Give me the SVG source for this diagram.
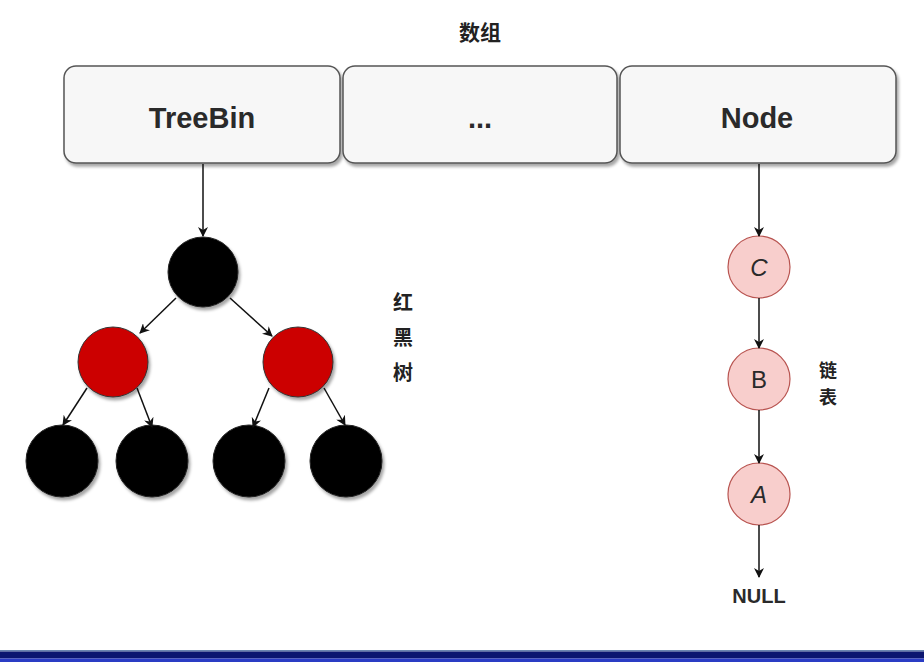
<svg xmlns="http://www.w3.org/2000/svg" width="924" height="662" viewBox="0 0 924 662">
<defs>
<marker id="ah" viewBox="0 0 10 10" refX="9" refY="5" markerWidth="10" markerHeight="10" markerUnits="userSpaceOnUse" orient="auto">
<path d="M0,0 L10,5 L0,10 L3,5 Z" fill="#111"/>
</marker>
<filter id="sh" x="-10%" y="-10%" width="120%" height="130%">
<feDropShadow dx="2" dy="3" stdDeviation="1.5" flood-color="#000" flood-opacity="0.35"/>
</filter>
</defs>
<style>
.box{fill:#f7f7f7;stroke:#555;stroke-width:1.5;filter:url(#sh)}
.lbl{font-family:"Liberation Sans","Noto Sans CJK SC",sans-serif;fill:#2a2a2a;text-anchor:middle}
.cjk{font-family:"Noto Sans CJK SC","Liberation Sans",sans-serif;font-weight:bold;fill:#222;text-anchor:middle}
.blk{fill:#000;stroke:#222;stroke-width:1;filter:url(#sh)}
.red{fill:#cc0000;stroke:#333;stroke-width:1;filter:url(#sh)}
.pink{fill:#f8cecc;stroke:#b85450;stroke-width:1.2}
.edge{stroke:#111;stroke-width:1.5;fill:none;marker-end:url(#ah)}
</style>
<rect width="924" height="662" fill="#fff"/>
<text class="cjk" x="480" y="40" font-size="21">数组</text>
<g id="treebin"><rect class="box" x="64" y="66" width="276" height="97" rx="12"/><text class="lbl" x="202" y="128" font-size="29" font-weight="bold">TreeBin</text></g>
<g id="dots"><rect class="box" x="343" y="66" width="274" height="97" rx="12"/><text class="lbl" x="480" y="128" font-size="29" font-weight="bold">...</text></g>
<g id="node"><rect class="box" x="620" y="66" width="276" height="97" rx="12"/><text class="lbl" x="757" y="128" font-size="29" font-weight="bold">Node</text></g>
<g id="root"><circle class="blk" cx="203" cy="272" r="35"/></g>
<g id="redL"><circle class="red" cx="113" cy="362" r="35"/></g>
<g id="redR"><circle class="red" cx="298" cy="362" r="35"/></g>
<g id="b1"><circle class="blk" cx="62" cy="461" r="36"/></g>
<g id="b2"><circle class="blk" cx="152" cy="461" r="36"/></g>
<g id="b3"><circle class="blk" cx="249" cy="461" r="36"/></g>
<g id="b4"><circle class="blk" cx="346" cy="461" r="36"/></g>
<g id="rbt-label"><text class="cjk" x="403" y="310" font-size="20">红</text><text class="cjk" x="403" y="345" font-size="20">黑</text><text class="cjk" x="403" y="380" font-size="20">树</text></g>
<g id="nC"><circle class="pink" cx="759" cy="267" r="31"/><text class="lbl" x="759" y="276" font-size="24" font-style="italic">C</text></g>
<g id="nB"><circle class="pink" cx="759" cy="379" r="31"/><text class="lbl" x="759" y="388" font-size="24">B</text></g>
<g id="nA"><circle class="pink" cx="759" cy="494" r="31"/><text class="lbl" x="759" y="503" font-size="24" font-style="italic">A</text></g>
<g id="null"><text class="lbl" x="759" y="603" font-size="20" font-weight="bold" fill="#222">NULL</text></g>
<g id="list-label"><text class="cjk" x="828" y="377" font-size="18">链</text><text class="cjk" x="828" y="404" font-size="18">表</text></g>
<g id="connectors">
<line class="edge" x1="203" y1="164" x2="203" y2="236"/>
<line class="edge" x1="176" y1="298" x2="140" y2="333"/>
<line class="edge" x1="230" y1="298" x2="272" y2="336"/>
<line class="edge" x1="87" y1="388" x2="63" y2="425"/>
<line class="edge" x1="137" y1="388" x2="152" y2="427"/>
<line class="edge" x1="269" y1="388" x2="253" y2="427"/>
<line class="edge" x1="324" y1="388" x2="345" y2="425"/>
<line class="edge" x1="759" y1="164" x2="759" y2="236"/>
<line class="edge" x1="759" y1="298" x2="759" y2="348"/>
<line class="edge" x1="759" y1="410" x2="759" y2="463"/>
<line class="edge" x1="759" y1="525" x2="759" y2="577"/>
</g>
<rect x="0" y="650" width="924" height="1.5" fill="#6a86b0"/>
<rect x="0" y="651.5" width="924" height="7" fill="#0b1670"/>
<rect x="0" y="658.5" width="924" height="3.5" fill="#2a3cc4"/>
</svg>
